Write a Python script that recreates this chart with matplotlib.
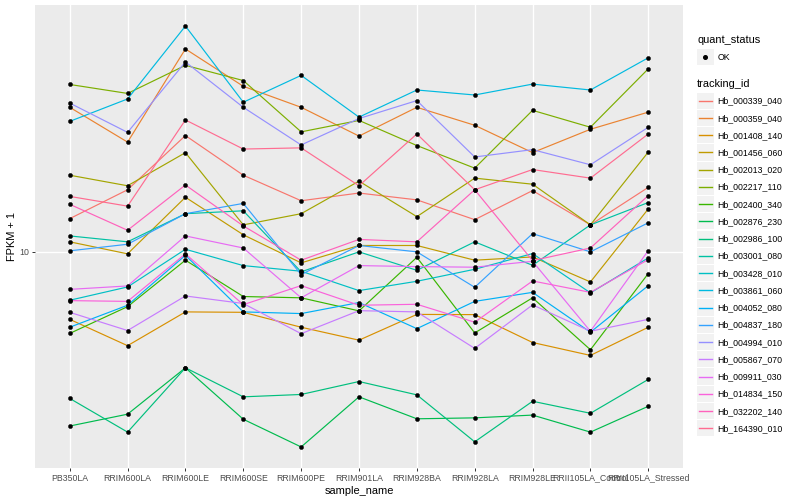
import numpy as np
import matplotlib
matplotlib.use("Agg")
import matplotlib.pyplot as plt
from matplotlib.patches import Rectangle
from matplotlib.ticker import NullLocator, FixedLocator

plt.rcParams['font.family'] = ['Liberation Sans', 'DejaVu Sans']

samples = ["PB350LA", "RRIM600LA", "RRIM600LE", "RRIM600SE", "RRIM600PE",
           "RRIM901LA", "RRIM928BA", "RRIM928LA", "RRIM928LE",
           "RRII105LA_Control", "RRII105LA_Stressed"]

tracking_ids = ["Hb_000339_040", "Hb_000359_040", "Hb_001408_140", "Hb_001456_060",
                "Hb_002013_020", "Hb_002217_110", "Hb_002400_340", "Hb_002876_230",
                "Hb_002986_100", "Hb_003001_080", "Hb_003428_010", "Hb_003861_060",
                "Hb_004052_080", "Hb_004837_180", "Hb_004994_010", "Hb_005867_070",
                "Hb_009911_030", "Hb_014834_150", "Hb_032202_140", "Hb_164390_010"]

# FPKM + 1 values per gene, one value per sample (in sample order)
hb_000339_040 = [12.9, 16.1, 24.4, 18.0, 14.8, 15.7, 14.9, 12.8, 16.0, 12.3, 16.4]
hb_000359_040 = [30.3, 23.2, 47.4, 35.6, 30.3, 24.3, 30.3, 26.4, 21.4, 25.6, 29.2]
hb_001408_140 = [5.96, 4.87, 6.31, 6.29, 5.61, 5.08, 6.19, 6.18, 4.99, 4.52, 5.61]
hb_001456_060 = [10.8, 9.85, 15.2, 11.4, 9.19, 10.5, 10.5, 9.38, 9.62, 7.94, 13.9]
hb_002013_020 = [18.0, 16.6, 21.4, 12.3, 13.4, 17.2, 13.1, 17.6, 16.8, 12.3, 21.5]
hb_002217_110 = [36.1, 33.7, 41.8, 37.2, 25.1, 27.4, 22.6, 19.0, 29.6, 26.0, 40.7]
hb_002400_340 = [5.35, 6.57, 9.38, 7.10, 7.03, 6.36, 9.59, 5.37, 7.03, 4.72, 8.47]
hb_002876_230 = [2.63, 2.88, 4.11, 2.77, 2.24, 3.29, 2.78, 2.80, 2.86, 2.51, 3.06]
hb_002986_100 = [3.25, 2.51, 4.11, 3.29, 3.35, 3.70, 3.34, 2.33, 3.18, 2.90, 3.76]
hb_003001_080 = [11.3, 10.8, 13.4, 13.7, 8.58, 10.0, 8.68, 10.8, 9.02, 12.3, 14.6]
hb_003428_010 = [6.90, 7.64, 10.2, 9.00, 8.62, 7.43, 7.98, 8.75, 9.87, 7.30, 9.55]
hb_003861_060 = [27.2, 32.3, 56.5, 31.5, 38.7, 28.1, 34.6, 33.3, 36.2, 34.6, 44.3]
hb_004052_080 = [5.61, 6.64, 9.74, 6.31, 6.23, 6.78, 5.55, 6.84, 7.33, 5.40, 7.72]
hb_004837_180 = [10.08, 10.6, 13.4, 14.5, 8.40, 10.5, 10.0, 7.62, 11.5, 10.0, 12.5]
hb_004994_010 = [31.3, 25.0, 42.9, 30.3, 22.7, 27.8, 31.9, 20.7, 21.9, 19.5, 26.0]
hb_005867_070 = [6.29, 5.47, 7.13, 6.73, 5.34, 6.37, 6.31, 4.77, 6.66, 5.44, 5.96]
hb_009911_030 = [7.50, 7.70, 11.3, 10.3, 7.03, 9.00, 8.93, 8.89, 9.30, 5.44, 10.1]
hb_014834_150 = [6.88, 6.84, 9.85, 6.67, 7.72, 6.64, 6.69, 5.83, 8.00, 7.33, 9.43]
hb_032202_140 = [14.4, 11.8, 16.7, 12.2, 9.38, 11.0, 10.8, 16.1, 9.35, 10.3, 15.4]
hb_164390_010 = [15.3, 14.2, 27.5, 22.0, 22.2, 16.6, 24.7, 16.1, 18.8, 17.6, 24.7]

series = [hb_000339_040, hb_000359_040, hb_001408_140, hb_001456_060, hb_002013_020,
          hb_002217_110, hb_002400_340, hb_002876_230, hb_002986_100, hb_003001_080,
          hb_003428_010, hb_003861_060, hb_004052_080, hb_004837_180, hb_004994_010,
          hb_005867_070, hb_009911_030, hb_014834_150, hb_032202_140, hb_164390_010]

colors = ["#F8766D", "#EA8331", "#D89000", "#C09B00", "#A3A500", "#7CAE00", "#39B600",
          "#00BB4E", "#00BF7D", "#00C1A3", "#00BFC4", "#00BAE0", "#00B0F6", "#35A2FF",
          "#9590FF", "#C77CFF", "#E76BF3", "#FA62DB", "#FF62BC", "#FF6C91"]

W, H = 800, 500
fig = plt.figure(figsize=(W / 100, H / 100), dpi=100)
fig.patch.set_facecolor("white")

px_l, px_r, px_t, px_b = 35, 683, 5, 468
ax = fig.add_axes([px_l / W, 1 - px_b / H, (px_r - px_l) / W, (px_b - px_t) / H])
ax.set_facecolor("#EBEBEB")
for sp in ax.spines.values():
    sp.set_visible(False)

x = np.arange(len(samples))
for vals, col in zip(series, colors):
    ax.plot(x, vals, color=col, lw=0.85, zorder=2)
for vals in series:
    ax.plot(x, vals, ls="none", marker="o", ms=3.0, mfc="black", mec="black",
            mew=0.3, zorder=3)

ax.set_yscale("log")
allv = np.log10(np.concatenate([np.asarray(s, float) for s in series]))
lo, hi = allv.min(), allv.max()
span = hi - lo
ax.set_ylim(10 ** (lo - 0.05 * span), 10 ** (hi + 0.05 * span))
ax.set_xlim(-0.6, len(samples) - 0.4)

ax.yaxis.set_major_locator(FixedLocator([10]))
ax.yaxis.set_minor_locator(NullLocator())
ax.set_yticklabels(["10"])
ax.set_xticks(x)
ax.set_xticklabels(samples)
ax.grid(True, which="major", color="white", lw=1.0)
ax.set_axisbelow(True)
ax.tick_params(axis="both", length=2.2, width=0.7, color="#333333",
               labelsize=6.3, labelcolor="#4D4D4D", pad=1.8)

fig.text((px_l + px_r) / 2 / W, 1 - 491 / H, "sample_name", ha="center", va="center",
         fontsize=7.9, color="black")
fig.text(12 / W, 1 - (px_t + px_b) / 2 / H, "FPKM + 1", ha="center", va="center",
         rotation=90, fontsize=7.9, color="black")

# legend drawn in pixel space
lax = fig.add_axes([0, 0, 1, 1])
lax.set_xlim(0, W)
lax.set_ylim(H, 0)
lax.axis("off")
lax.patch.set_alpha(0)

kx, kw = 697, 16.5
lax.text(kx, 40, "quant_status", fontsize=7.9, va="center", ha="left")
lax.add_patch(Rectangle((kx, 48.5), kw, 16.5, facecolor="#F2F2F2", edgecolor="none"))
lax.plot([kx + kw / 2], [56.7], marker="o", ms=2.6, color="black")
lax.text(kx + kw + 4, 57, "OK", fontsize=6.3, va="center", ha="left")

lax.text(kx, 84, "tracking_id", fontsize=7.9, va="center", ha="left")
y0, dy = 100.7, 17.24
for i, (tid, col) in enumerate(zip(tracking_ids, colors)):
    yc = y0 + dy * i
    lax.add_patch(Rectangle((kx, yc - 8.1), kw, 16.2, facecolor="#F2F2F2",
                            edgecolor="none"))
    lax.plot([kx + 1.5, kx + kw - 1.5], [yc, yc], color=col, lw=1.0)
    lax.text(kx + kw + 3.5, yc + 0.3, tid, fontsize=6.3, va="center", ha="left")

fig.savefig("out.png", dpi=100)
